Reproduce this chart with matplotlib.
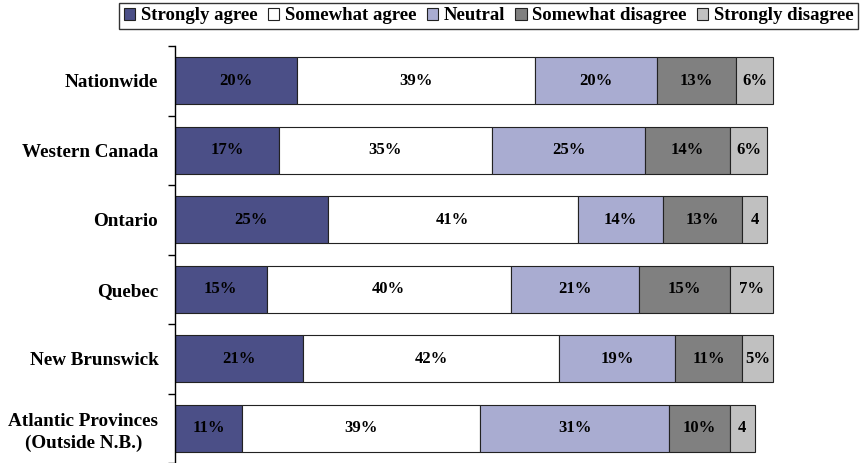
import numpy as np
import matplotlib
matplotlib.use('Agg')
import matplotlib.pyplot as plt

regions = ['Nationwide', 'Western Canada', 'Ontario', 'Quebec',
           'New Brunswick', 'Atlantic Provinces\n(Outside N.B.)']
responses = ['Strongly agree', 'Somewhat agree', 'Neutral',
             'Somewhat disagree', 'Strongly disagree']
strongly_agree = [20, 17, 25, 15, 21, 11]
somewhat_agree = [39, 35, 41, 40, 42, 39]
neutral = [20, 25, 14, 21, 19, 31]
somewhat_disagree = [13, 14, 13, 15, 11, 10]
strongly_disagree = [6, 6, 4, 7, 5, 4]
# small segments show the bare number
short_labels = {(2, 4): '4', (5, 4): '4'}

colors = ['#4b4f87', '#ffffff', '#a9acd1', '#808080', '#c0c0c0']
serif = ['Liberation Serif', 'DejaVu Serif']

series = [strongly_agree, somewhat_agree, neutral, somewhat_disagree, strongly_disagree]

fig = plt.figure(figsize=(8.61, 4.63), dpi=100)
ax = fig.add_axes([175 / 861, 0.0, 610 / 861, 1 - 46 / 463])

y = np.arange(len(regions))
left = np.zeros(len(regions))
for j, (vals, name, c) in enumerate(zip(series, responses, colors)):
    bars = ax.barh(y, vals, left=left, height=0.675, color=c,
                   edgecolor='#222222', linewidth=0.8, label=name)
    for i, (b, v) in enumerate(zip(bars, vals)):
        txt = short_labels.get((i, j), f'{v}%')
        ax.text(left[i] + v / 2, y[i], txt, ha='center', va='center',
                family=serif, fontweight='bold', fontsize=12, color='black')
    left += np.array(vals)

ax.set_xlim(0, 100)
ax.set_ylim(len(regions) - 0.5, -0.5)
ax.set_yticks(y)
ax.set_yticklabels(regions, family=serif, fontweight='bold', fontsize=13.8,
                   linespacing=1.35, multialignment='center')
ax.tick_params(axis='y', which='major', length=0, pad=12)
ax.set_yticks(np.arange(len(regions) + 1) - 0.5, minor=True)
ax.tick_params(axis='y', which='minor', length=5, width=1, direction='out')
ax.set_xticks([])
for s in ['top', 'right', 'bottom']:
    ax.spines[s].set_visible(False)
ax.spines['left'].set_linewidth(1)

leg = fig.legend(loc='upper right', bbox_to_anchor=(1.0, 1.0), ncol=5,
                 prop={'family': serif, 'weight': 'bold', 'size': 13.5},
                 handlelength=0.6, handleheight=0.6, handletextpad=0.3,
                 columnspacing=0.55, borderpad=0.25, borderaxespad=0.15,
                 fancybox=False, framealpha=1)
leg.get_frame().set_edgecolor('#333333')
leg.get_frame().set_linewidth(1)

fig.savefig('out.png', dpi=100)
